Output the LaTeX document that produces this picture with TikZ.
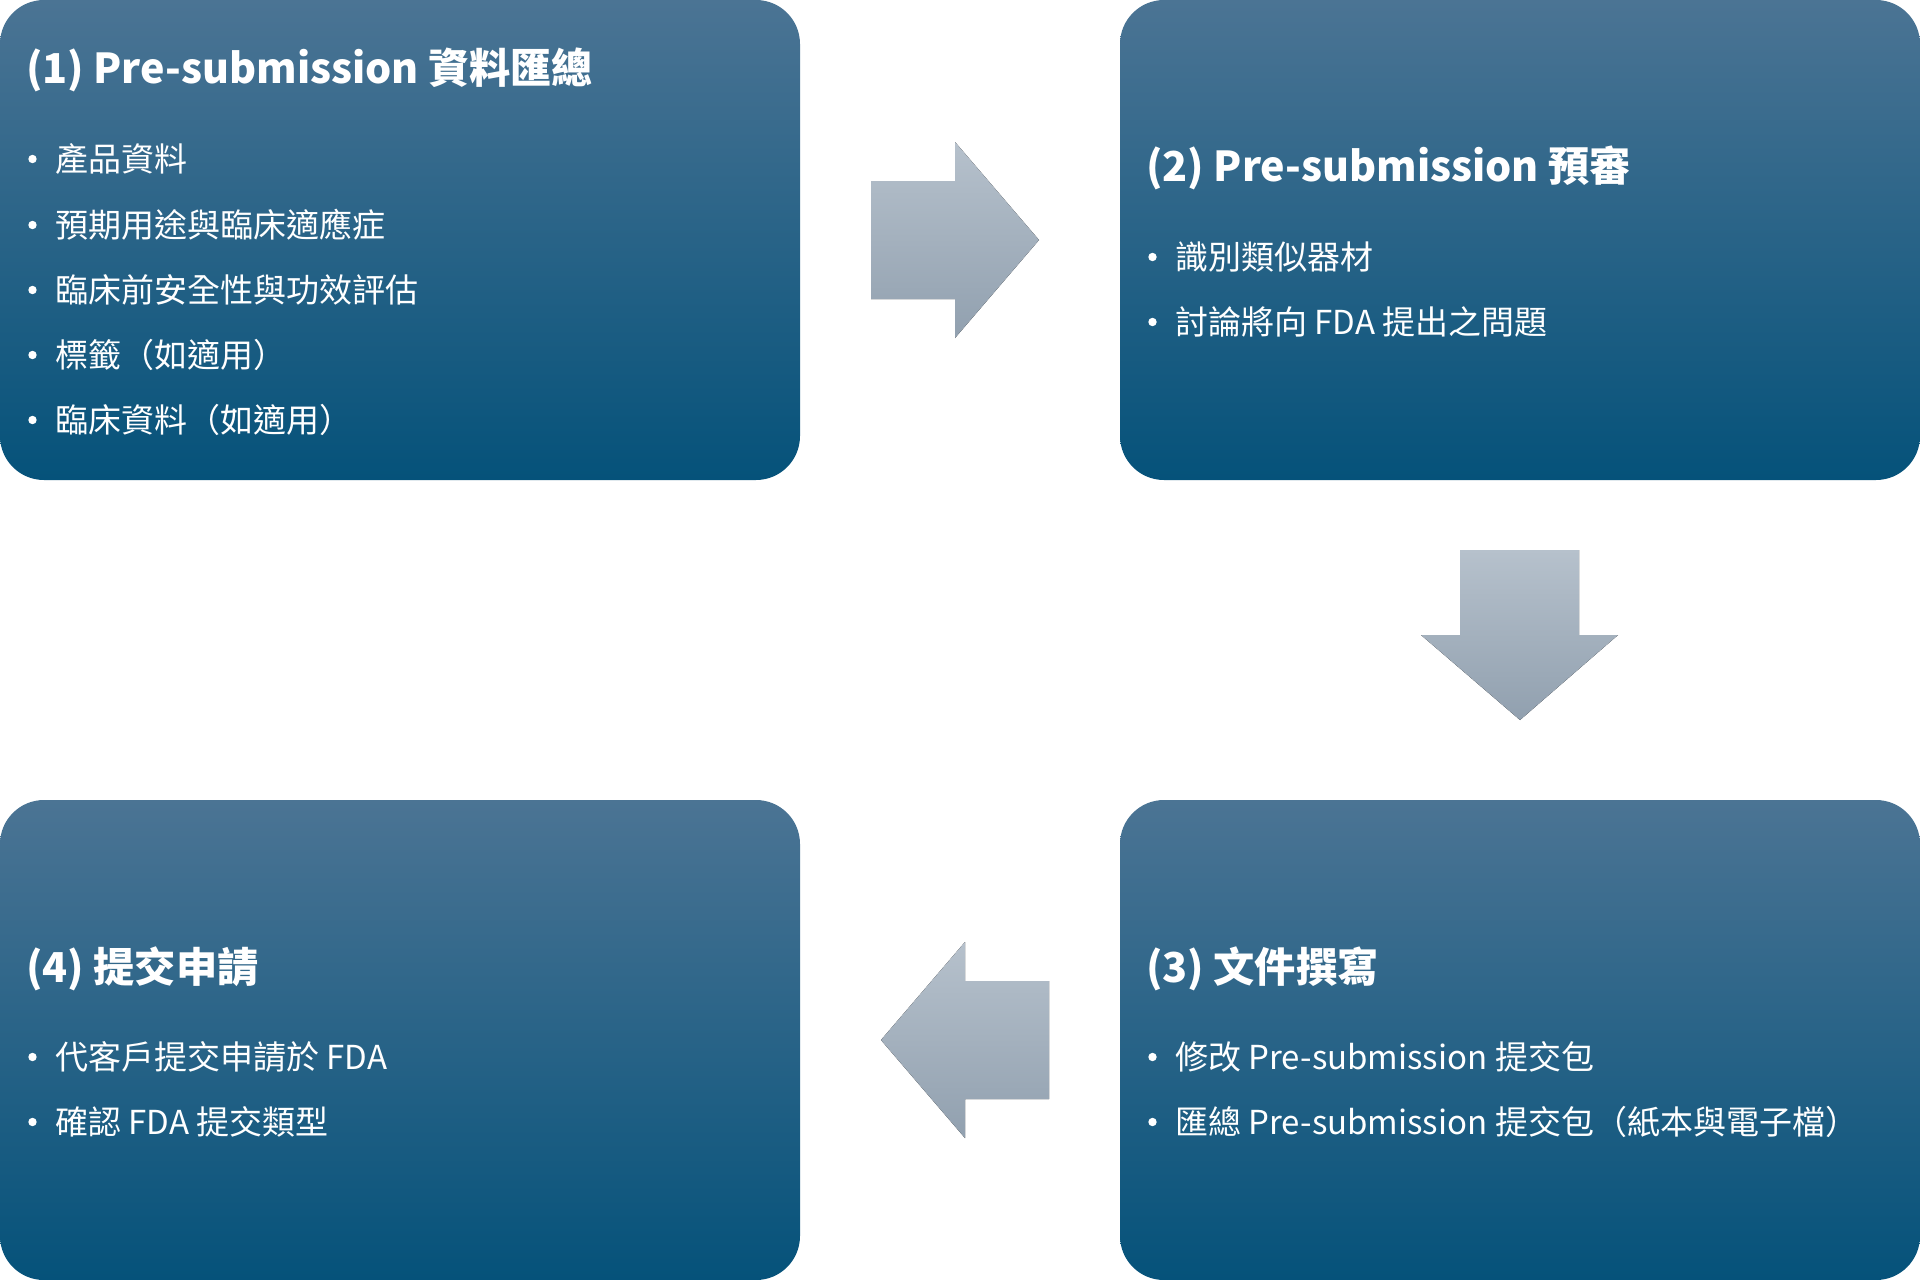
\documentclass[tikz,border=0pt]{standalone}
\usepackage{fontspec}
\setmainfont{Noto Sans CJK TC}
\definecolor{boxtop}{RGB}{75,116,148}
\definecolor{boxbot}{RGB}{5,82,122}
\definecolor{arrtop}{RGB}{182,193,204}
\definecolor{arrbot}{RGB}{145,160,175}
\tikzset{
  panel/.style={rounded corners=44pt, top color=boxtop, bottom color=boxbot, draw=none,
    minimum width=800pt, minimum height=480pt, inner sep=0pt, outer sep=0pt},
  ttl/.style={anchor=base west, inner sep=0pt, text=white, font=\fontsize{41.2}{49}\selectfont\bfseries},
  itm/.style={anchor=base west, inner sep=0pt, text=white, font=\fontsize{33}{40}\selectfont},
  bulletdot/.style={fill=white},
  blockarrow/.style={top color=arrtop, bottom color=arrbot, draw=none}
}
\begin{document}
\begin{tikzpicture}[x=1pt,y=-1pt]
\useasboundingbox (0,0) rectangle (1920,1280);
% panels
\node[panel] (b1) at (400,240) {};
\node[panel] (b2) at (1520,240) {};
\node[panel] (b3) at (1520,1040) {};
\node[panel] (b4) at (400,1040) {};
% panel 1
\node[ttl] (t1) at (26,83) {(1) Pre-submission 資料匯總};
\foreach \y/\n/\t in {171/i11/產品資料, 237/i12/預期用途與臨床適應症, 302/i13/臨床前安全性與功效評估, 367/i14/標籤（如適用）, 432/i15/臨床資料（如適用）}{
  \node[itm] (\n) at (55,\y) {\t};
  \fill[bulletdot] (32.5,\y-12) circle (4.2pt);
}
% panel 2
\node[ttl] (t2) at (1146,181) {(2) Pre-submission 預審};
\foreach \y/\n/\t in {269/i21/識別類似器材, 334/i22/討論將向 FDA 提出之問題}{
  \node[itm] (\n) at (1175,\y) {\t};
  \fill[bulletdot] (1152.5,\y-12) circle (4.2pt);
}
% panel 3
\node[ttl] (t3) at (1146,982) {(3) 文件撰寫};
\foreach \y/\n/\t in {1069/i31/修改 Pre-submission 提交包, 1134/i32/匯總 Pre-submission 提交包（紙本與電子檔）}{
  \node[itm] (\n) at (1175,\y) {\t};
  \fill[bulletdot] (1152.5,\y-12) circle (4.2pt);
}
% panel 4
\node[ttl] (t4) at (26,982) {(4) 提交申請};
\foreach \y/\n/\t in {1069/i41/代客戶提交申請於 FDA, 1134/i42/確認 FDA 提交類型}{
  \node[itm] (\n) at (55,\y) {\t};
  \fill[bulletdot] (32.5,\y-12) circle (4.2pt);
}
% block arrows
\fill[blockarrow] (871,181) -- (955,181) -- (955,142) -- (1039,240) -- (955,338) -- (955,299) -- (871,299) -- cycle;
\fill[blockarrow] (1460,550) -- (1579,550) -- (1579,635) -- (1618,635) -- (1520,720) -- (1421,635) -- (1460,635) -- cycle;
\fill[blockarrow] (1049,981) -- (965,981) -- (965,942) -- (881,1040) -- (965,1138) -- (965,1099) -- (1049,1099) -- cycle;
\end{tikzpicture}
\end{document}
